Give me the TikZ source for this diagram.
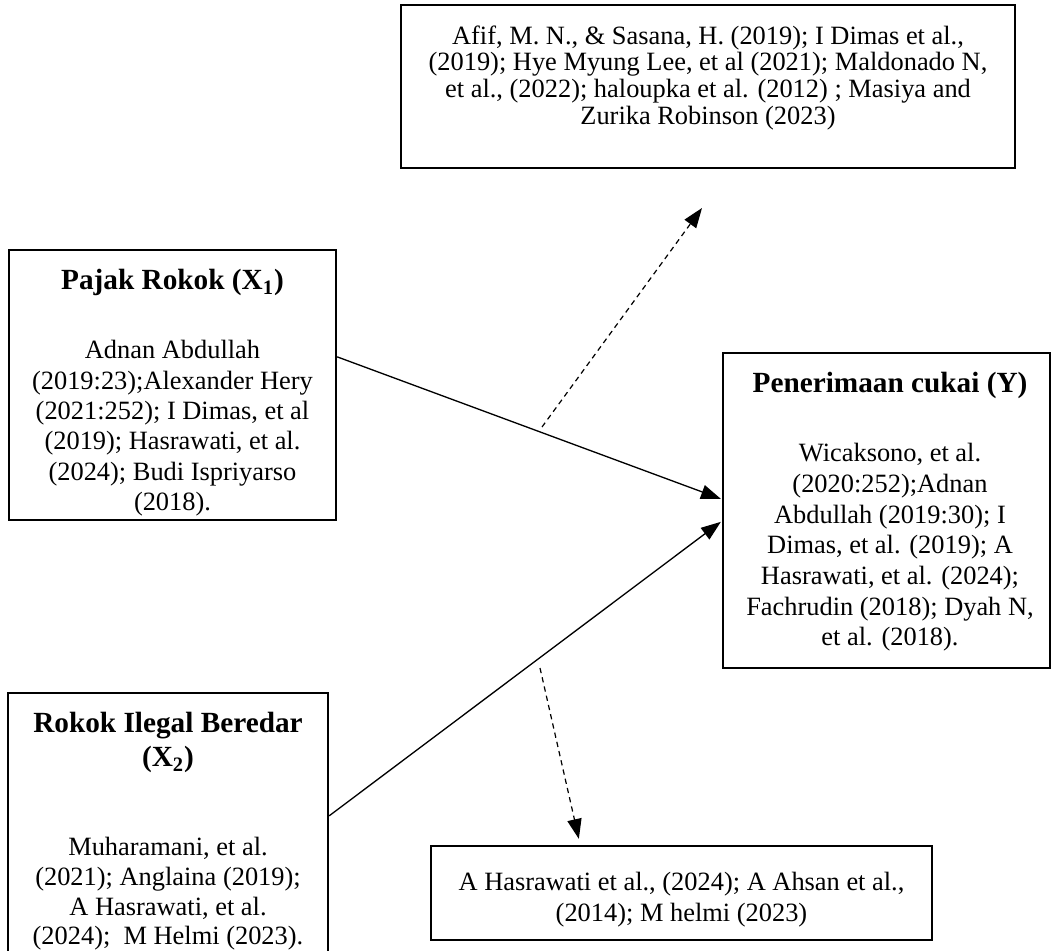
\documentclass[tikz,border=0pt]{standalone}
\usepackage{fontspec}
\setmainfont{Liberation Serif}
\usetikzlibrary{arrows.meta,fit,calc}
\begin{document}
\begin{tikzpicture}[x=0.4545pt,y=-0.4545pt]
\tikzset{
 box/.style={draw, line width=1.05pt, inner sep=0pt},
 ttl/.style={font=\fontsize{13.3}{15.5}\selectfont\bfseries, align=center, inner sep=0pt, anchor=north},
 bdy/.style={font=\fontsize{12}{13.8}\selectfont, align=center, inner sep=0pt, anchor=north},
 conn/.style={line width=0.6pt, -{Triangle[length=9pt,width=6.5pt]}},
 dconn/.style={line width=0.55pt, dash pattern=on 2.4pt off 1.9pt, -{Triangle[length=9pt,width=6.5pt]}},
}
\useasboundingbox (0,0) rectangle (1057,951);

\node[box, fit={(401,5) (1015,168)}] (T) {};
\node[bdy, font=\fontsize{12}{12.2}\selectfont] (Tt) at (708,25) {Afif, M. N., \& Sasana, H. (2019); I Dimas et al.,\\(2019); Hye Myung Lee, et al (2021); Maldonado N,\\et al., (2022); haloupka et al. (2012) ; Masiya and\\Zurika Robinson (2023)};

\node[box, fit={(9,250) (336,520)}] (X1) {};
\node[ttl] (X1h) at (172.5,269) {Pajak Rokok (X\textsubscript{1})};
\node[bdy] (X1b) at (172.5,340) {Adnan Abdullah\\(2019:23);Alexander Hery\\(2021:252); I Dimas, et al\\(2019); Hasrawati, et al.\\(2024); Budi Ispriyarso\\(2018).};

\node[box, fit={(723,353) (1050,668)}] (Y) {};
\node[ttl] (Yh) at (890,372) {Penerimaan cukai (Y)};
\node[bdy, font=\fontsize{12}{13.95}\selectfont] (Yb) at (890,443) {Wicaksono, et al.\\(2020:252);Adnan\\Abdullah (2019:30); I\\Dimas, et al. (2019); A\\Hasrawati, et al. (2024);\\Fachrudin (2018); Dyah N,\\et al. (2018).};

\node[box, fit={(8,693) (328,955)}] (X2) {};
\node[ttl] (X2h) at (168,712) {Rokok Ilegal Beredar\\(X\textsubscript{2})};
\node[bdy, font=\fontsize{12}{13.5}\selectfont] (X2b) at (168,837) {Muharamani, et al.\\(2021); Anglaina (2019);\\A Hasrawati, et al.\\(2024);\ \ M Helmi (2023).};

\node[box, fit={(431,846) (932,940)}] (B) {};
\node[bdy] (Bt) at (681.5,872) {A Hasrawati et al., (2024); A Ahsan et al.,\\(2014); M helmi (2023)};

\draw[conn] ($(X1.north east)+(0,108)$) -- ($(Y.north west)+(-1,147)$);
\draw[conn] ($(X2.north east)+(0,124)$) -- ($(Y.north west)+(-1,170)$);
\coordinate (d1s) at (542,427);
\coordinate (d1e) at (702,208);
\draw[dconn] (d1s) -- (d1e);
\coordinate (d2s) at (540,668);
\draw[dconn] (d2s) -- ($(B.north west)+(149,-6)$);
\end{tikzpicture}
\end{document}
